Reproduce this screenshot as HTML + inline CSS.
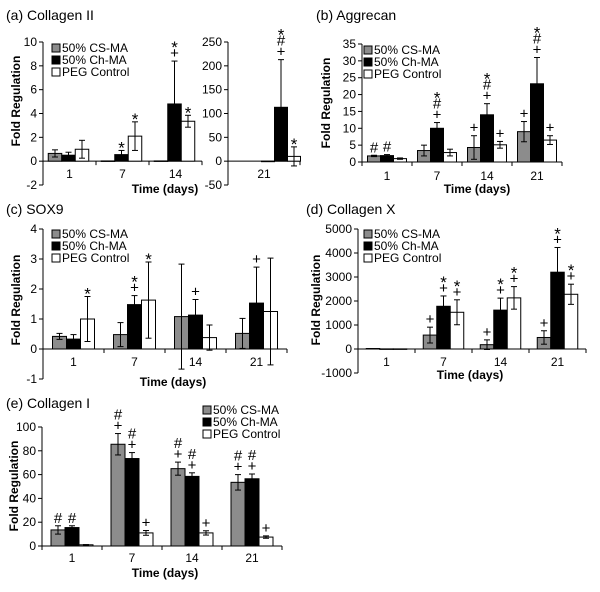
<!DOCTYPE html>
<html><head><meta charset="utf-8"><style>
body{margin:0;background:#fff}
svg,svg text{font-family:"Liberation Sans",Arial,sans-serif}
</style></head><body>
<svg id="fig" width="600" height="587" viewBox="0 0 600 587" font-family="Liberation Sans, Arial, sans-serif"></svg>
<script>
const days=["1","7","14","21"];
const seriesNames=["50% CS-MA","50% Ch-MA","PEG Control"];
// (a) Collagen II
const aCS=[0.65,0.02,0.02,0],aCSe=[0.3,0,0,0];
const aCh=[0.5,0.55,4.8,113],aChe=[0.25,0.35,3.6,100];
const aPEG=[1.0,2.1,3.35,10],aPEGe=[0.75,1.2,0.5,20];
const aAnn=[["","",""],["","*","*"],["","*+","*"],["","*#+","*"]];
const aTicksL=[-2,0,2,4,6,8,10],aTicksR=[-50,0,50,100,150,200,250];
// (b) Aggrecan
const bCS=[1.8,3.4,4.3,9],bCSe=[0.2,1.6,3.5,3];
const bCh=[1.9,10,14,23.2],bChe=[0.3,1.7,3.3,7.8];
const bPEG=[1.0,2.8,5.1,6.5],bPEGe=[0.2,1,1,1.3];
const bAnn=[["#","#",""],["","*#+",""],["+","*#+","+"],["+","*#+","+"]];
const bTicks=[0,5,10,15,20,25,30,35];
// (c) SOX9
const cCS=[0.42,0.48,1.08,0.52],cCSe=[0.1,0.4,1.75,0.5];
const cCh=[0.33,1.48,1.13,1.53],cChe=[0.15,0.3,0.52,1.2];
const cPEG=[1.0,1.63,0.38,1.25],cPEGe=[0.75,1.27,0.42,1.78];
const cAnn=[["","","*"],["","*+","*"],["","+",""],["","+",""]];
const cTicks=[-1,0,1,2,3,4];
// (d) Collagen X
const dCS=[20,580,180,480],dCSe=[0,330,200,280];
const dCh=[5,1780,1620,3200],dChe=[0,430,500,1030];
const dPEG=[5,1530,2130,2280],dPEGe=[0,520,470,420];
const dAnn=[["","",""],["+","*+","*+"],["+","*+","*+"],["+","*+","*+"]];
const dTicks=[-1000,0,1000,2000,3000,4000,5000];
// (e) Collagen I
const eCS=[13.5,85.5,65,53.5],eCSe=[3.5,9,5.5,6.5];
const eCh=[15.5,73.5,58.5,56.5],eChe=[1.5,5,3,4];
const ePEG=[1,11,11,7.5],ePEGe=[0.2,2,1.8,1];
const eAnn=[["#","#",""],["#+","#+","+"],["#+","#+","+"],["#+","#+","+"]];
const eTicks=[0,20,40,60,80,100];

const NS="http://www.w3.org/2000/svg";
const svg=document.getElementById('fig');
const FF="Liberation Sans, Arial, sans-serif";
function mk(tag,attrs,parent,text){const e=document.createElementNS(NS,tag);for(const k in attrs)e.setAttribute(k,attrs[k]);if(tag==='text')e.setAttribute('font-family',FF);if(text!==undefined)e.textContent=text;(parent||svg).appendChild(e);return e;}
const fills=["#8c8c8c","#000","#fff"];

function axisY(ax,g,name){
  const sy=v=>ax.yBot-(v-ax.min)/(ax.max-ax.min)*(ax.yBot-ax.yTop);
  const l=mk('line',{x1:ax.x,y1:ax.yTop,x2:ax.x,y2:ax.yBot,stroke:'#000','stroke-width':1},g);
  
  
  ax.ticks.forEach(t=>{
    mk('line',{x1:ax.x-4,y1:sy(t),x2:ax.x,y2:sy(t),stroke:'#000'},g);
    const tx=mk('text',{x:ax.x-6,y:sy(t)+4,'font-size':12,'text-anchor':'end'},g,String(t));
    
    
  });
  return sy;
}
function drawBars(g,sy,cx,bw,vals,errs,anns){
  for(let s=0;s<3;s++){
    const v=vals[s],e=errs[s],x=cx+(s-1.5)*bw;
    const y0=sy(0),y1=sy(v);
    const r=mk('rect',{x:x,y:Math.min(y0,y1),width:bw,height:Math.max(Math.abs(y0-y1),0.5),fill:fills[s],stroke:'#000','stroke-width':1},g);
    
    
    const mx=x+bw/2;
    let top=y1;
    if(e>0){
      const yt=sy(v+e),yb=sy(v-e);
      mk('line',{x1:mx,y1:yt,x2:mx,y2:yb,stroke:'#000'},g);
      mk('line',{x1:mx-3,y1:yt,x2:mx+3,y2:yt,stroke:'#000'},g);
      mk('line',{x1:mx-3,y1:yb,x2:mx+3,y2:yb,stroke:'#000'},g);
      top=yt;
    }
    const a=anns[s];
    if(a){
      const chars=a.split('');
      let yy=top-3;
      for(let i=chars.length-1;i>=0;i--){
        const t=mk('text',{x:mx,y:yy+(chars[i]==='*'?6:0),'font-size':chars[i]==='*'?17:15,'text-anchor':'middle'},g,chars[i]);
        
        
        yy-=11;
      }
    }
  }
}
function legend(g,x,y){
  for(let s=0;s<3;s++){
    const r=mk('rect',{x:x,y:y+s*12-8,width:8,height:8,fill:fills[s],stroke:'#000'},g);
    
    
    const t=mk('text',{x:x+10,y:y+s*12,'font-size':12},g,seriesNames[s]);
    
    
  }
}
function panel(cfg){
  const g=mk('g',{});
  
  
  const t=mk('text',{x:cfg.tx,y:cfg.ty,'font-size':14},g,cfg.title);
  
  
  const yl=mk('text',{x:0,y:0,'font-size':12,'font-weight':'bold','text-anchor':'middle',transform:`translate(${cfg.ylx},${cfg.yly}) rotate(-90)`},g,'Fold Regulation');
  
  
  const xl=mk('text',{x:cfg.xlx,y:cfg.xly,'font-size':12,'font-weight':'bold','text-anchor':'middle'},g,'Time (days)');
  
  
  return g;
}
function xAxis(g,sy,x0,cw,n,first,labelY){
  const y0=sy(0);
  const l=mk('line',{x1:x0,y1:y0,x2:x0+cw*n,y2:y0,stroke:'#000'},g);
  
  
  for(let i=0;i<=n;i++) mk('line',{x1:x0+cw*i,y1:y0,x2:x0+cw*i,y2:y0+4,stroke:'#000'},g);
  for(let i=0;i<n;i++){
    const t=mk('text',{x:x0+cw*(i+0.5),y:labelY,'font-size':12,'text-anchor':'middle'},g,days[first+i]);
    
    
  }
}
function standard(cfg,CS,CSe,Ch,Che,PEG,PEGe,Ann){
  const g=panel(cfg);
  const sy=axisY(cfg.ax,g,cfg.name);
  xAxis(g,sy,cfg.ax.x,cfg.cw,4,0,cfg.labelY);
  for(let i=0;i<4;i++){
    drawBars(g,sy,cfg.ax.x+cfg.cw*(i+0.5),cfg.bw,[CS[i],Ch[i],PEG[i]],[CSe[i],Che[i],PEGe[i]],Ann[i]);
  }
  legend(g,cfg.lx,cfg.ly);
}
(function(){
  const g=panel({name:'panel-collagen-ii',title:'(a) Collagen II',tx:6,ty:20,ylx:20,yly:101,xlx:165,xly:193});
  const syL=axisY({x:43,yTop:42,yBot:185,min:-2,max:10,ticks:aTicksL},g,'left');
  xAxis(g,syL,43,53,3,0,178);
  for(let i=0;i<3;i++) drawBars(g,syL,43+53*(i+0.5)-1,13.5,[aCS[i],aCh[i],aPEG[i]],[aCSe[i],aChe[i],aPEGe[i]],aAnn[i]);
  const syR=axisY({x:228,yTop:42,yBot:185,min:-50,max:250,ticks:aTicksR},g,'right');
  xAxis(g,syR,228,72,1,3,178);
  drawBars(g,syR,281,13,[aCS[3],aCh[3],aPEG[3]],[aCSe[3],aChe[3],aPEGe[3]],aAnn[3]);
  legend(g,52,52);
})();
standard({name:'panel-aggrecan',title:'(b) Aggrecan',tx:316,ty:20,ylx:330,yly:103,xlx:477,xly:193,
  ax:{x:362,yTop:44,yBot:162,min:0,max:35,ticks:bTicks},cw:50,bw:13,labelY:180,lx:364,ly:54},bCS,bCSe,bCh,bChe,bPEG,bPEGe,bAnn);
standard({name:'panel-sox9',title:'(c) SOX9',tx:6,ty:214,ylx:20,yly:300,xlx:173,xly:386,
  ax:{x:43,yTop:229,yBot:379,min:-1,max:4,ticks:cTicks},cw:61,bw:14,labelY:366,lx:52,ly:238},cCS,cCSe,cCh,cChe,cPEG,cPEGe,cAnn);
standard({name:'panel-collagen-x',title:'(d) Collagen X',tx:306,ty:214,ylx:320,yly:300,xlx:470,xly:379,
  ax:{x:358,yTop:229,yBot:373,min:-1000,max:5000,ticks:dTicks},cw:57,bw:13.5,labelY:366,lx:364,ly:238},dCS,dCSe,dCh,dChe,dPEG,dPEGe,dAnn);
standard({name:'panel-collagen-i',title:'(e) Collagen I',tx:6,ty:408,ylx:18,yly:486,xlx:165,xly:577,
  ax:{x:42,yTop:427,yBot:546,min:0,max:100,ticks:eTicks},cw:60,bw:14,labelY:562,lx:203,ly:414},eCS,eCSe,eCh,eChe,ePEG,ePEGe,eAnn);
</script>
</body></html>
